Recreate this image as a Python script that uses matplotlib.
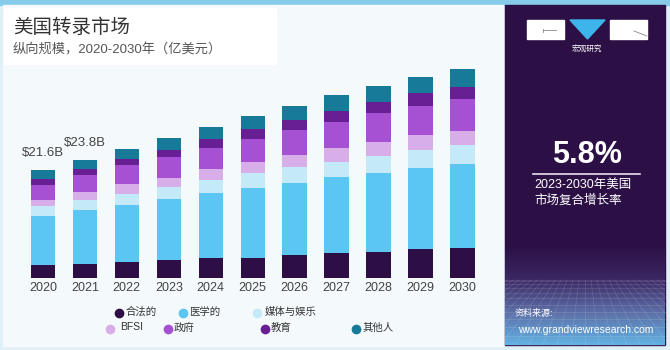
import numpy as np
import matplotlib.pyplot as plt
from matplotlib.patches import Rectangle, Polygon
from matplotlib.colors import LinearSegmentedColormap

plt.rcParams['font.family'] = ['Liberation Sans', 'Noto Sans CJK SC', 'DejaVu Sans']

## data (billion USD)
years = ['2020', '2021', '2022', '2023', '2024', '2025', '2026', '2027', '2028', '2029', '2030']
legal   = [2.48, 2.82, 3.17, 3.59, 3.93, 4.05, 4.60, 4.94, 5.20, 5.75, 5.95]
medical = [9.88, 10.75, 11.41, 12.30, 13.23, 14.11, 14.58, 15.32, 15.99, 16.45, 16.94]
media   = [2.02, 2.02, 2.30, 2.48, 2.56, 2.90, 3.10, 3.15, 3.37, 3.57, 3.89]
bfsi    = [1.35, 1.69, 2.02, 1.81, 2.16, 2.22, 2.48, 2.82, 2.88, 2.96, 2.88]
gov     = [3.02, 3.35, 3.75, 4.23, 4.35, 4.70, 5.04, 5.24, 5.85, 5.91, 6.39]
edu     = [1.15, 1.29, 1.35, 1.35, 1.75, 1.96, 2.02, 2.22, 2.22, 2.56, 2.48]
other   = [1.73, 1.88, 1.96, 2.48, 2.48, 2.68, 2.82, 3.17, 3.23, 3.23, 3.51]
labels_top = {0: '$21.6B', 1: '$23.8B'}

series = [
    ('合法的', legal, '#2d0f45'),
    ('医学的', medical, '#5bc6f2'),
    ('媒体与娱乐', media, '#c4eaf8'),
    ('BFSI', bfsi, '#d8aee8'),
    ('政府', gov, '#a651d4'),
    ('教育', edu, '#671f93'),
    ('其他人', other, '#177a99'),
]

fig = plt.figure(figsize=(6.7, 3.5), dpi=100)

# background layer in pixel coords
bg = fig.add_axes([0, 0, 1, 1], zorder=0)
bg.add_patch(Rectangle((0, 0), 670, 350, color='#e1eff7'))
bg.add_patch(Rectangle((0, 0), 670, 5, color='#86cbe9'))
bg.add_patch(Rectangle((3, 5), 500, 341, color='#f4f9fc'))
bg.add_patch(Rectangle((4, 8), 272, 56, color='#ffffff'))
bg.add_patch(Rectangle((505, 5), 160, 340, color='#2c1045'))

# bottom gradient of the side panel
cmap = LinearSegmentedColormap.from_list('g', ['#2c1045', '#3a2762', '#5d6da6', '#62b2e2'])
grad = np.linspace(0, 1, 200).reshape(-1, 1)
bg.imshow(grad, cmap=cmap, extent=[505, 665, 345, 245], aspect='auto', zorder=1)
for k in range(12):
    yy = 280 + (k / 11) ** 1.6 * 65
    bg.plot([505, 665], [yy, yy], color='white', alpha=0.12, lw=0.6, zorder=2)
for k in range(-14, 15):
    bg.plot([585 + k * 6, 585 + k * 14], [280, 345], color='white', alpha=0.12, lw=0.6, zorder=2)

# logo
bg.add_patch(Rectangle((527, 20), 37, 19, color='white', zorder=3))
bg.add_patch(Rectangle((610, 20), 37, 19, color='white', zorder=3))
bg.add_patch(Polygon([(570, 20), (605, 20), (587.5, 39)], color='#3db5ea', zorder=3))
bg.plot([543, 556], [30, 30], color='#888888', lw=0.6, zorder=4)
bg.plot([543, 543], [29, 32], color='#888888', lw=0.6, zorder=4)
bg.plot([634, 647], [31, 36], color='#888888', lw=0.6, zorder=4)
bg.plot([533, 640], [173.5, 173.5], color='#e8e0f0', lw=1.2, zorder=3)
bg.set_xlim(0, 670)
bg.set_ylim(350, 0)
bg.axis('off')

# titles
bg.text(13, 28, '美国转录市场', fontsize=14, color='#333333', va='center', ha='left')
bg.text(13, 50, '纵向规模，2020-2030年（亿美元）', fontsize=9.5, color='#555555', va='center', ha='left')

# side panel text
bg.text(587, 49, '宏观研究', fontsize=5.5, color='white', ha='center', va='center', zorder=4)
bg.text(587.5, 155, '5.8%', fontsize=22, fontweight='bold', color='white', ha='center', va='center', zorder=4)
bg.text(534, 185, '2023-2030年美国', fontsize=9, color='white', ha='left', va='center', zorder=4)
bg.text(534, 201, '市场复合增长率', fontsize=9, color='white', ha='left', va='center', zorder=4)
bg.text(515, 313, '资料来源:', fontsize=6.5, color='white', ha='left', va='center', zorder=4)
bg.text(518, 330, 'www.grandviewresearch.com', fontsize=7.5, color='white', ha='left', va='center', zorder=4)

# legend (manual layout)
leg_pos = [(119, 313, 126), (182.5, 313, 189), (257, 313, 265),
           (109.5, 328.5, 120), (168, 328.5, 174), (265, 328.5, 271), (356, 328.5, 363)]
for (name, vals, col), (mx, my, tx) in zip(series, leg_pos):
    bg.plot([mx], [my], marker='o', ms=7, color=col, mec='none', zorder=4)
    bg.text(tx, my - 1, name, fontsize=7.5, color='#333333', ha='left', va='center', zorder=4)

# bar chart
ax = fig.add_axes([21.9 / 670, 72.2 / 350, 461.6 / 670, 217.8 / 350], zorder=1)
ax.patch.set_alpha(0)
x = np.arange(len(years))
bottom = np.zeros(len(years))
for name, vals, col in series:
    ax.bar(x, vals, width=0.58, bottom=bottom, color=col, edgecolor='none')
    bottom += np.array(vals)

for i, lab in labels_top.items():
    ax.annotate(lab, (x[i], bottom[i]), xytext=(0, 8), textcoords='offset points',
                ha='center', va='bottom', fontsize=9.5, color='#444444')

ax.set_xlim(-0.5, len(years) - 0.5)
ax.set_ylim(0, 43.9)
ax.set_xticks(x)
ax.set_xticklabels(years, fontsize=9, color='#444444')
ax.tick_params(axis='x', length=0, pad=3)
ax.set_yticks([])
for s in ax.spines.values():
    s.set_visible(False)

fig.savefig('out.png', dpi=100)
